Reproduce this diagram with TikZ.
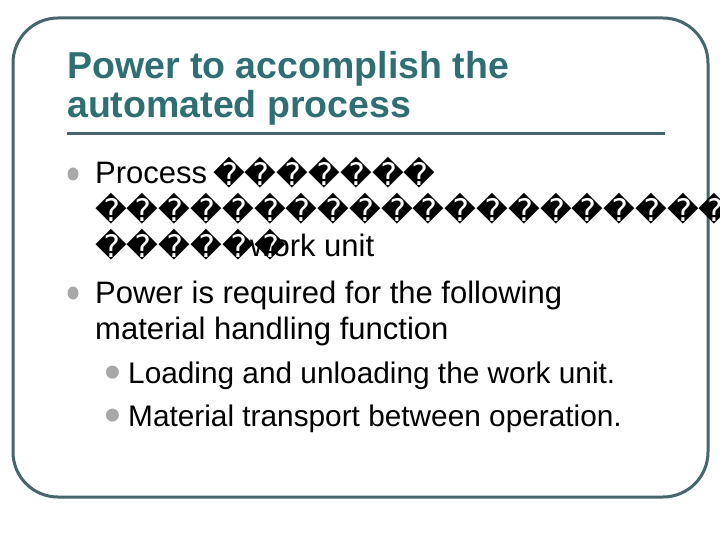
\documentclass[tikz,border=0pt]{standalone}
\usepackage{fontspec}
\setmainfont{Liberation Sans}
\newfontfamily\dv{DejaVu Sans}
\definecolor{frame}{HTML}{46666C}
\definecolor{ttl}{HTML}{2F6F73}
\definecolor{bul}{HTML}{A8A8A8}
\begin{document}
\begin{tikzpicture}[x=1pt,y=-1pt,
  txt/.style={anchor=base west,inner sep=0pt,font=\fontsize{31}{36}\selectfont},
  sub/.style={anchor=base west,inner sep=0pt,font=\fontsize{29.8}{34}\selectfont},
  rep/.style={anchor=base west,inner sep=0pt,font=\dv\fontsize{31}{34}\selectfont},
  sdot/.style={anchor=base west,inner sep=0pt,text=bul,font=\fontsize{48}{48}\selectfont}]
\useasboundingbox (0,0) rectangle (720,540);
\draw[frame,line width=3pt,rounded corners=45pt] (13,18) rectangle (708,497);
\node[anchor=base west,inner sep=0pt,text=ttl,font=\bfseries\fontsize{37.5}{39}\selectfont] (t1) at (67,79) {Power to accomplish the};
\node[anchor=base west,inner sep=0pt,text=ttl,font=\bfseries\fontsize{37.5}{39}\selectfont] (t2) at (67,118) {automated process};
\draw[frame,line width=3pt] (67,134) -- (665,134);
\fill[bul] (73,174) ellipse (5.5 and 6.5);
\node[txt] (p1) at (95,184) {Process};
\node[rep] (r1) at (213,186) {�������};
\node[rep] (r2) at (95,222) {����������������������};
\node[rep] (r3) at (95,258) {������};
\node[txt] (w) at (250,256) {work unit};
\fill[bul] (73,293) ellipse (5.5 and 6.5);
\node[txt] (p2) at (95,303) {Power is required for the following};
\node[txt] (p3) at (95,339) {material handling function};
\node[sdot] (b1) at (104,388) {•};
\node[sub] (s1) at (128,383) {Loading and unloading the work unit.};
\node[sdot] (b2) at (104,431) {•};
\node[sub] (s2) at (128,426) {Material transport between operation.};
\end{tikzpicture}
\end{document}
